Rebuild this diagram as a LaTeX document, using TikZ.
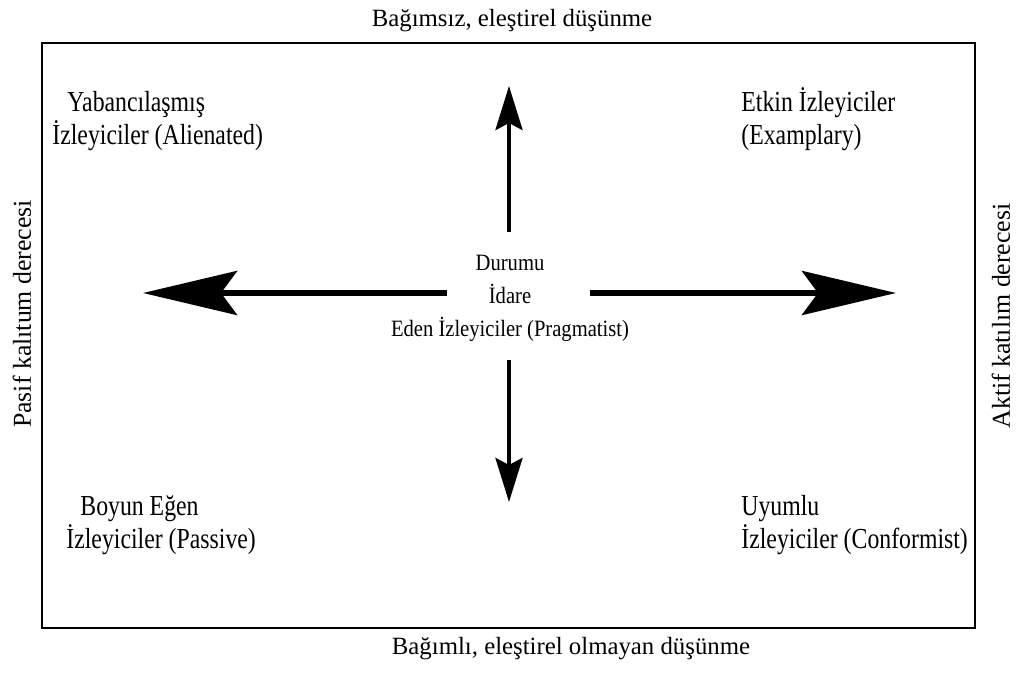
\documentclass[tikz,border=0pt]{standalone}
\usepackage{fontspec}
\setmainfont{Liberation Serif}
\newfontfamily\cornerfont[FakeStretch=0.82]{Liberation Serif}
\newfontfamily\middlefont[FakeStretch=0.88]{Liberation Serif}
\usetikzlibrary{arrows.meta}

\begin{document}
\begin{tikzpicture}[x=0.5pt,y=-0.5pt]
        % axes of the follower types, pixel units of the picture
        \tikzstyle{corner} = [anchor=base west,inner sep=0pt,font=\cornerfont\fontsize{14.5}{17}\selectfont];
        \tikzstyle{axis} = [inner sep=0pt,font=\fontsize{12.4}{14}\selectfont];
        \tikzstyle{side} = [inner sep=0pt,rotate=90,font=\fontsize{12.9}{15}\selectfont];
        \tikzstyle{bigarrow} = [line width=3pt,-{Stealth[length=47pt,width=22pt,inset=8pt]}];
        \tikzstyle{smallarrow} = [line width=2pt,-{Stealth[length=22pt,width=13.5pt,inset=3.5pt]}];

        \useasboundingbox (0,0) rectangle (1022,673);
        \draw[line width=1pt] (42,43) rectangle (975,628);

        \node[axis,anchor=base] (independent) at (512,27) {Bağımsız, eleştirel düşünme};
        \node[axis,anchor=base] (dependent) at (571,654) {Bağımlı, eleştirel olmayan düşünme};
        \node[side] (passive_side) at (22,314) {Pasif kalıtum derecesi};
        \node[side] (active_side) at (1001,316) {Aktif katılım derecesi};

        \node[corner] (alienated) at (67,112) {Yabancılaşmış};
        \node[corner] (alienated2) at (52,145) {İzleyiciler (Alienated)};
        \node[corner] (exemplary) at (741,112) {Etkin İzleyiciler};
        \node[corner] (exemplary2) at (741,145) {(Examplary)};
        \node[corner] (passive) at (80,515) {Boyun Eğen};
        \node[corner] (passive2) at (66,548) {İzleyiciler (Passive)};
        \node[corner] (conformist) at (741,515) {Uyumlu};
        \node[corner] (conformist2) at (741,548) {İzleyiciler (Conformist)};

        \node[align=center,inner sep=0pt,font=\middlefont\fontsize{11.7}{16.5}\selectfont] (pragmatist) at (510,298)
            {Durumu\\İdare\\Eden İzleyiciler (Pragmatist)};

        \coordinate (left_start) at (447,293);
        \coordinate (left_tip) at (143,293);
        \coordinate (right_start) at (590,293);
        \coordinate (right_tip) at (896,293);
        \coordinate (up_start) at (509,232);
        \coordinate (up_tip) at (509,86);
        \coordinate (down_start) at (509,360);
        \coordinate (down_tip) at (509,502);

        \draw[bigarrow] (left_start) -- (left_tip);
        \draw[bigarrow] (right_start) -- (right_tip);
        \draw[smallarrow] (up_start) -- (up_tip);
        \draw[smallarrow] (down_start) -- (down_tip);

    \end{tikzpicture}
\end{document}
